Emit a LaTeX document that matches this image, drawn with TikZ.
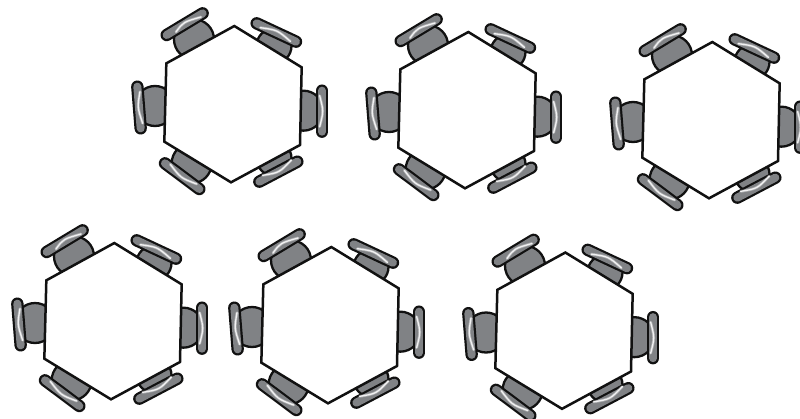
\documentclass[tikz,border=0pt]{standalone}
\definecolor{seatgrey}{HTML}{808285}
\definecolor{lineblack}{HTML}{111111}
\tikzset{
  seat/.style={fill=seatgrey,draw=lineblack,line width=2.3pt},
  barout/.style={draw=lineblack,line width=12.4pt,line cap=round},
  barin/.style={draw=seatgrey,line width=8pt,line cap=round},
  gleamsoft/.style={draw=white,opacity=.35,line width=2.8pt,line cap=round},
  gleam/.style={draw=white!90!seatgrey,line width=1.3pt,line cap=round},
  tabletop/.style={fill=white,draw=lineblack,line width=2.5pt,line join=miter}
}
\newcommand{\onechair}[9]{%
  \fill[seat] (#1,#2) circle[radius=#3pt];
  \draw[barout] (#4) -- (#5);
  \draw[barin] (#4) -- (#5);
  \draw[gleamsoft] (#6) .. controls (#7) .. (#8);
  \draw[gleam] (#6) .. controls (#7) .. (#8);
}
\newcommand{\sixtable}[2]{%
\begin{scope}[shift={(120+#1,#2)},x=0.33333pt,y=-0.33333pt]
  \onechair{105}{318}{20}{52,260}{62,385}{60,275}{52,322}{68,370}{}
  \onechair{550}{332}{20}{606,272}{606,395}{599,287}{611,334}{599,380}{}
  \onechair{222}{118}{20}{140,105}{248,40}{168,96}{190,66}{243,51}{}
  \onechair{462}{138}{17.5}{410,70}{528,125}{421,83}{472,90}{511,124}{}
  \onechair{215}{490}{20}{135,490}{238,567}{151,493}{182,534}{230,552}{}
  \onechair{462}{475}{17.5}{418,545}{532,485}{428,526}{478,518}{514,480}{}
  \draw[tabletop] (343,78) -- (545,202) -- (540,435) -- (333,547) -- (133,425) -- (139,190) -- cycle;
\end{scope}}
\begin{document}
\begin{tikzpicture}[x=1pt,y=-1pt]
  \useasboundingbox (0,0) rectangle (800,418);
  \clip (0,0) rectangle (800,418);
  \sixtable{0}{0}
  \sixtable{234}{6}
  \sixtable{478}{16}
  \sixtable{-120}{217}
  \sixtable{97}{221}
  \sixtable{331}{226.5}
\end{tikzpicture}
\end{document}
